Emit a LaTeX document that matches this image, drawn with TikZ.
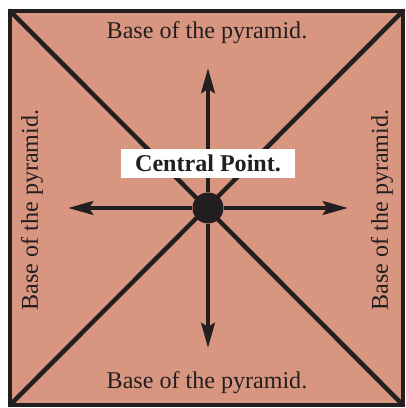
\documentclass[tikz,border=0pt]{standalone}
\usepackage{fontspec}
\setmainfont{Liberation Serif}
\usepackage{tikz}
\usetikzlibrary{arrows.meta,positioning,calc}
\definecolor{basefill}{RGB}{216,150,128}
\definecolor{inkdark}{RGB}{35,31,32}

\begin{document}
\begin{tikzpicture}[x=0.02cm, y=0.02cm,
    edge/.style={draw=inkdark, line width=0.09cm, line cap=round, line join=miter},
    arrow/.style={draw=inkdark, line width=0.09cm, -{Stealth[length=0.5cm, width=0.27cm, inset=0.08cm]}},
    baselabel/.style={font=\fontsize{13.7}{16}\selectfont, text=inkdark},
    centerlabel/.style={fill=white, font=\fontsize{13.7}{16}\selectfont\bfseries, text=inkdark,
                        inner xsep=0.28cm, minimum height=0.58cm}
]
\useasboundingbox (0,0) rectangle (405,408);
% corners of the base
\coordinate (sw) at (10,3);
\coordinate (se) at (403,3);
\coordinate (ne) at (403,397);
\coordinate (nw) at (10,397);
\fill[basefill] (sw) rectangle (ne);
\draw[edge] (sw) -- (ne);
\draw[edge] (nw) -- (se);
\draw[edge] (sw) -- (se) -- (ne) -- (nw) -- cycle;
% central point and arrows
\node[circle, fill=inkdark, minimum size=0.62cm, inner sep=0pt] (cp) at (208,200) {};
\coordinate (up) at (208,340);
\coordinate (down) at (208,60);
\coordinate (left) at (68,200);
\coordinate (right) at (348,200);
\draw[arrow] (cp) -- (up);
\draw[arrow] (cp) -- (down);
\draw[arrow] (cp) -- (left);
\draw[arrow] (cp) -- (right);
\node[centerlabel] (cl) at (208,244.5) {Central Point.};
% labels
\node[baselabel] (top) at (207,375) {Base of the pyramid.};
\node[baselabel] (bottom) at (207,25) {Base of the pyramid.};
\node[baselabel, rotate=90] (west) at (32,198) {Base of the pyramid.};
\node[baselabel, rotate=90] (east) at (382,198) {Base of the pyramid.};
\end{tikzpicture}
\end{document}
